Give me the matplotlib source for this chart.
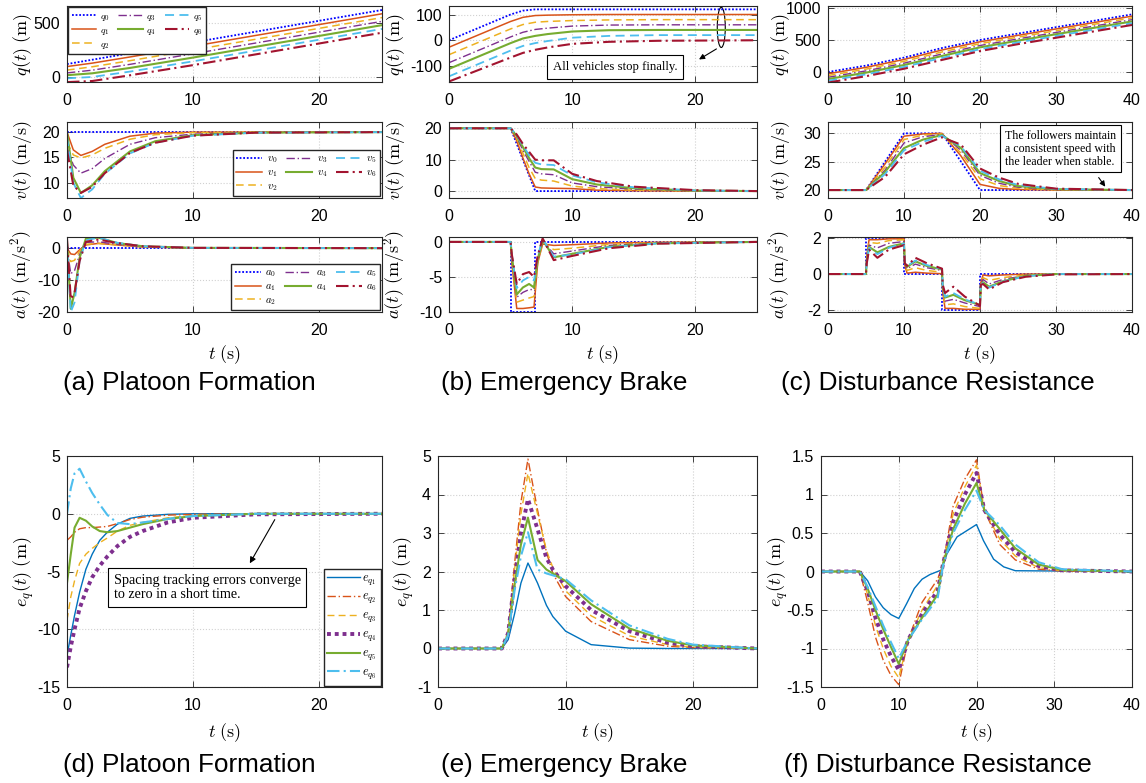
import matplotlib
matplotlib.use("Agg")
import matplotlib.pyplot as plt
from matplotlib.patches import Ellipse
from matplotlib.ticker import FuncFormatter

plt.rcParams['font.family'] = ['Liberation Sans', 'DejaVu Sans']
plt.rcParams['mathtext.fontset'] = 'cm'
plt.rcParams['axes.unicode_minus'] = False

# ---------------- (a) platoon formation ----------------
ta_q = [0, 2, 5, 10, 25]
qa = [
    [120, 160, 220, 320, 620],
    [97, 128.5, 185.5, 285, 585],
    [64, 94.8, 151.3, 250, 550],
    [38, 63.3, 117.3, 215, 515],
    [17, 34.3, 84.1, 180, 480],
    [-12, 0.5, 50.3, 145, 445],
    [-47, -37, 16.1, 110, 410],
]
ta_v = [0, 0.5, 1.1, 2, 3, 5, 7, 10, 15, 25]
va = [
    [20, 20, 20, 20, 20, 20, 20, 20, 20, 20],
    [20, 16.5, 15.4, 16.2, 17.6, 19.2, 19.8, 20, 20, 20],
    [18, 15.5, 14.9, 15.5, 16.8, 18.6, 19.5, 19.9, 20, 20],
    [17, 13.5, 11.9, 12.8, 14.8, 17.6, 18.9, 19.6, 19.9, 20],
    [20, 11, 8.0, 9.5, 12.3, 16.2, 18.2, 19.4, 19.9, 20],
    [19, 10, 7.0, 8.7, 11.8, 15.8, 17.9, 19.3, 19.9, 20],
    [16.5, 9.5, 8.0, 9.2, 11.9, 15.9, 17.9, 19.3, 19.9, 20],
]
ta_a = [0, 0.3, 0.6, 1.0, 1.5, 2.5, 4, 6, 10, 25]
aa = [
    [0, 0, 0, 0, 0, 0, 0, 0, 0, 0],
    [0, -1.8, -2.0, -0.5, 1.0, 1.5, 1.0, 0.4, 0.05, 0],
    [0, -4.2, -3.8, -1.0, 1.2, 1.5, 1.0, 0.4, 0.05, 0],
    [0, -8, -7, -2, 1.8, 2.0, 1.2, 0.5, 0.1, 0],
    [2, -19, -14, -3, 3.0, 3.3, 1.6, 0.6, 0.1, 0],
    [2, -20, -17, -4, 2.5, 3.3, 1.7, 0.6, 0.1, 0],
    [3, -16, -14, -4, 2.0, 2.7, 1.6, 0.6, 0.1, 0],
]

# ---------------- (b) emergency brake ----------------
tb_q = [0, 5, 6, 7, 8, 10, 13, 17, 25]
qb = [
    [0, 100, 115, 120, 120, 120, 120, 120, 120],
    [-27, 73, 89, 96, 97.5, 99, 100, 100, 100],
    [-56, 44, 61, 70, 73, 76.5, 79, 80, 80],
    [-87, 13, 31, 42, 47, 55, 59, 60, 60],
    [-111, -11, 7, 17, 24, 34, 39, 40, 40],
    [-140, -40, -22, -11, -3, 10, 17, 20, 20],
    [-160, -67, -49, -37, -28, -14, -6, -2, 0],
]
tb_v0 = [0, 5, 7, 25]
vb0 = [20, 20, 0, 0]
tb_v = [0, 5, 5.5, 6, 6.5, 7, 7.5, 8.5, 10, 12, 15, 20, 25]
vb = [
    [20, 20, 16, 10.5, 5.5, 1.3, 1.0, 0.9, 0.8, 0.3, 0.1, 0, 0],
    [20, 20, 16.8, 12, 7.5, 4, 3.5, 3.2, 1.6, 0.8, 0.3, 0.05, 0],
    [20, 20, 17.2, 13, 9.5, 6, 5.5, 5.2, 2.6, 1.4, 0.6, 0.1, 0],
    [20, 20, 17.5, 14, 10.5, 7.5, 7, 6.9, 3.8, 2.1, 0.9, 0.15, 0],
    [20, 20, 17.8, 14.5, 11.5, 9, 8.5, 8.3, 5.0, 2.8, 1.2, 0.2, 0],
    [20, 20, 18, 15, 12.5, 10, 9.8, 9.8, 5.5, 3.2, 1.4, 0.3, 0],
]
tb_a0 = [0, 5, 5, 7, 7, 25]
ab0 = [0, 0, -10, -10, 0, 0]
tb_a = [0, 5, 5.1, 5.5, 6.0, 6.5, 6.9, 7.2, 7.6, 8.5, 10, 13, 17, 25]
ab = [
    [0, 0, -3, -9.5, -9.5, -9.4, -9.3, -3, -0.3, -0.5, -0.4, -0.15, -0.05, 0],
    [0, 0, -2.5, -8.6, -8.3, -8.0, -7.8, -3, 0, -1.1, -0.9, -0.35, -0.1, 0],
    [0, 0, -2.2, -7.9, -7.2, -6.8, -6.8, -2.5, 0.2, -1.7, -1.3, -0.5, -0.15, 0],
    [0, 0, -2, -7.5, -6.5, -6.0, -6.5, -2.5, 0.3, -2.2, -1.7, -0.7, -0.2, 0],
    [0, 0, -2, -6.6, -5.5, -5.0, -5.5, -2, 0.4, -2.1, -1.8, -0.75, -0.2, 0],
    [0, 0, -1.8, -6, -4.6, -4.3, -5, -2, 0.5, -2.6, -2.0, -0.9, -0.25, 0],
]

# ---------------- (c) disturbance resistance ----------------
tc_q = [0, 5, 10, 15, 20, 25, 40]
qc = [
    [0, 100, 225, 375, 500, 600, 900],
    [-27.5, 72.5, 196, 344, 472, 572.5, 872.5],
    [-55, 45, 167, 313, 443, 545, 845],
    [-82.5, 17.5, 138, 282, 414, 517.5, 817.5],
    [-110, -10, 109, 251, 385, 490, 790],
    [-137.5, -37.5, 80, 220, 356, 462.5, 762.5],
    [-165, -65, 51, 189, 327, 435, 735],
]
tc_v = [0, 5, 7.5, 10, 12.5, 15, 17.5, 20, 22.5, 25, 30, 40]
vc = [
    [20, 20, 25, 30, 30, 30, 25, 20, 20, 20, 20, 20],
    [20, 20, 24.6, 29.5, 29.9, 30, 26.0, 21, 20.3, 20.1, 20, 20],
    [20, 20, 24.0, 28.9, 29.7, 29.9, 26.5, 22, 20.8, 20.3, 20.05, 20],
    [20, 20, 23.5, 28.3, 29.4, 29.8, 27, 22.6, 21.2, 20.5, 20.1, 20],
    [20, 20, 23.2, 27.4, 28.9, 29.7, 27.4, 23.0, 21.6, 20.7, 20.15, 20],
    [20, 20, 22.8, 27, 28.5, 29.6, 27.7, 23.4, 21.9, 20.9, 20.2, 20],
    [20, 20, 22.3, 26.3, 28.0, 29.3, 28, 23.8, 22.2, 21.1, 20.25, 20],
]
tc_a0 = [0, 5, 5, 10, 10, 15, 15, 20, 20, 40]
ac0 = [0, 0, 2, 2, 0, 0, -2, -2, 0, 0]
tc_a = [0, 5, 5.1, 5.4, 6.5, 8, 10, 10.1, 10.4, 11.5, 13, 15, 15.1, 15.4, 16.5, 18, 20,
        20.1, 20.4, 21.2, 23, 26, 30, 40]
ac = [
    [0, 0, 1.0, 1.9, 1.9, 1.95, 1.95, 0.5, 0.05, 0.1, 0.05, 0.02, -1.0, -1.9, -1.9, -1.95, -1.95,
     -0.5, -0.05, -0.1, -0.05, 0, 0, 0],
    [0, 0, 0.8, 1.75, 1.7, 1.85, 1.9, 0.6, 0.2, 0.35, 0.2, 0.1, -0.9, -1.7, -1.65, -1.8, -1.9,
     -0.6, -0.2, -0.35, -0.2, -0.05, 0, 0],
    [0, 0, 0.8, 1.6, 1.45, 1.7, 1.8, 0.6, 0.3, 0.55, 0.35, 0.2, -0.8, -1.5, -1.4, -1.6, -1.8,
     -0.6, -0.3, -0.55, -0.3, -0.08, 0, 0],
    [0, 0, 0.7, 1.5, 1.2, 1.5, 1.7, 0.6, 0.4, 0.7, 0.45, 0.25, -0.7, -1.3, -1.15, -1.45, -1.7,
     -0.6, -0.45, -0.7, -0.4, -0.1, 0, 0],
    [0, 0, 0.7, 1.45, 1.1, 1.45, 1.7, 0.6, 0.45, 0.75, 0.5, 0.28, -0.7, -1.25, -1.05, -1.4, -1.7,
     -0.6, -0.5, -0.75, -0.42, -0.12, 0, 0],
    [0, 0, 0.6, 1.35, 0.9, 1.35, 1.6, 0.6, 0.45, 0.9, 0.6, 0.3, -0.6, -1.05, -0.7, -1.25, -1.75,
     -0.6, -0.55, -0.85, -0.45, -0.15, -0.02, 0],
]

# ---------------- (d)(e)(f) spacing errors ----------------
td = [0, 0.3, 0.6, 1.0, 1.5, 2, 2.6, 3.2, 4, 5, 6, 8, 10, 15, 25]
ed = [
    [-12.3, -10.5, -8.8, -6.8, -4.8, -3.5, -2.3, -1.6, -0.9, -0.4, -0.2, -0.05, 0, 0, 0],
    [-2.3, -2.0, -1.6, -1.3, -1.2, -1.2, -1.15, -1.1, -0.85, -0.5, -0.3, -0.12, -0.05, 0, 0],
    [-9.2, -7.2, -5.8, -4.3, -3.5, -3.0, -2.5, -2.1, -1.5, -1.0, -0.75, -0.35, -0.15, 0, 0],
    [-13.3, -11.5, -10.0, -8.2, -6.7, -5.5, -4.5, -3.7, -2.8, -2.0, -1.5, -0.75, -0.35, -0.05, 0],
    [-6.0, -3.5, -1.2, -0.35, -0.6, -1.1, -1.5, -1.6, -1.5, -1.2, -0.9, -0.45, -0.2, 0, 0],
    [0, 2.2, 3.5, 3.9, 2.8, 1.8, 0.8, -0.1, -0.8, -0.9, -0.75, -0.45, -0.2, 0, 0],
]
te = [0, 5, 5.5, 6, 6.5, 7.05, 7.8, 8.5, 9, 10, 12, 15, 18, 20, 25]
ee = [
    [0, 0, 0.23, 0.9, 1.7, 2.22, 1.7, 1.12, 0.83, 0.45, 0.1, 0.01, 0, 0, 0],
    [0, 0, 0.45, 2.2, 3.8, 4.92, 3.6, 2.5, 1.95, 1.35, 0.7, 0.23, 0.06, 0.02, 0],
    [0, 0, 0.42, 2.05, 3.5, 4.55, 3.5, 2.55, 2.1, 1.5, 0.85, 0.33, 0.1, 0.03, 0],
    [0, 0, 0.4, 1.8, 3.0, 3.88, 3.1, 2.35, 2.05, 1.62, 1.0, 0.45, 0.15, 0.06, 0],
    [0, 0, 0.38, 1.65, 2.7, 3.4, 2.3, 2.05, 1.95, 1.75, 1.15, 0.52, 0.2, 0.08, 0],
    [0, 0, 0.35, 1.5, 2.4, 3.02, 2.05, 1.95, 1.9, 1.8, 1.25, 0.6, 0.25, 0.1, 0],
]
tf1 = [0, 5, 6, 7, 8, 9, 10, 11, 12, 13, 14, 15, 15.5, 16.2, 17.5, 18.75, 20, 20.9, 22.2, 23.5, 25, 40]
ef1 = [0, 0, -0.12, -0.33, -0.47, -0.56, -0.61, -0.42, -0.22, -0.1, -0.04, 0, 0.02, 0.23, 0.45,
       0.53, 0.61, 0.4, 0.16, 0.06, 0.01, 0]
tf = [0, 5, 6, 7, 8, 9, 10, 11.2, 13, 15, 15.7, 17, 18.5, 20, 21, 23, 25, 28, 31, 40]
ef = [
    [0, 0, -0.4, -0.85, -1.15, -1.35, -1.47, -0.89, -0.4, -0.1, 0.1, 0.85, 1.2, 1.45, 0.8, 0.35, 0.15, 0.03, 0.005, 0],
    [0, 0, -0.3, -0.7, -1.0, -1.23, -1.38, -0.89, -0.5, -0.18, 0.1, 0.75, 1.1, 1.38, 0.8, 0.42, 0.2, 0.05, 0.01, 0],
    [0, 0, -0.25, -0.6, -0.88, -1.1, -1.28, -0.89, -0.55, -0.25, 0.1, 0.65, 1.0, 1.28, 0.8, 0.48, 0.25, 0.07, 0.015, 0],
    [0, 0, -0.22, -0.5, -0.75, -0.98, -1.2, -0.89, -0.6, -0.3, 0.1, 0.55, 0.88, 1.15, 0.8, 0.55, 0.3, 0.09, 0.02, 0],
    [0, 0, -0.2, -0.45, -0.7, -0.92, -1.13, -0.89, -0.62, -0.35, 0.08, 0.5, 0.8, 1.05, 0.8, 0.6, 0.35, 0.12, 0.03, 0],
]

# styles (matlab-ish)
veh_col = ['#0000FF', '#D95319', '#EDB120', '#7E2F8E', '#77AC30', '#4DBEEE', '#A2142F']
veh_ls = [(0, (1, 1)), '-', (0, (5, 3)), (0, (6, 2, 1, 2)), '-', (0, (5, 3)), (0, (6, 2, 1, 2))]
veh_lw = [1.3, 1.1, 1.1, 1.0, 1.5, 1.3, 1.5]
err_col = ['#0072BD', '#D95319', '#EDB120', '#7E2F8E', '#77AC30', '#4DBEEE']
err_ls = ['-', (0, (6, 2, 1, 2)), (0, (5, 3)), (0, (1, 1)), '-', (0, (6, 2, 1, 2))]
err_lw = [1.0, 1.0, 1.0, 2.8, 1.5, 1.5]

W, H = 1146, 783
fig = plt.figure(figsize=(W / 100, H / 100), dpi=100)


def box(l, t, r, b):
    return fig.add_axes([l / W, 1 - b / H, (r - l) / W, (b - t) / H])


def style(ax, xlim, xt, ylim, yt, ylab, labx):
    ax.set_xlim(xlim)
    ax.set_ylim(ylim)
    ax.set_xticks(xt)
    ax.set_yticks(yt)
    ax.yaxis.set_major_formatter(FuncFormatter(lambda v, p: '%g' % v))
    ax.tick_params(direction='in', top=True, right=True, labelsize=11.5, length=4,
                   width=0.6, color='#262626', pad=5)
    ax.tick_params(axis='x', pad=8)
    ax.grid(True, color='0.82', linestyle=':', linewidth=0.8)
    for s in ax.spines.values():
        s.set_color('#262626')
        s.set_linewidth(0.8)
    ax.set_ylabel(ylab, fontsize=13)
    ax.yaxis.set_label_coords(labx, 0.5)


cols = [(67, 382), (449, 757), (828, 1132)]
rows = [(6, 82), (122, 198), (237, 312)]

# top row axes
axs = [[box(c[0], r[0], c[1], r[1]) for r in rows] for c in cols]

qlab = r'$q(t)\ (\mathrm{m})$'
vlab = r'$v(t)\ (\mathrm{m/s})$'
alab = r'$a(t)\ (\mathrm{m/s^2})$'
tlab = r'$t\ (\mathrm{s})$'
leg_kw = dict(ncol=3, handlelength=2.5, handletextpad=0.4, columnspacing=0.9,
              labelspacing=0.2, borderpad=0.35, borderaxespad=0.15,
              fancybox=False, edgecolor='#262626', framealpha=1)

# (a)
ax = axs[0][0]
for i in range(7):
    ax.plot(ta_q, qa[i], color=veh_col[i], ls=veh_ls[i], lw=veh_lw[i], label=r'$q_%d$' % i)
style(ax, (0, 25), [0, 10, 20], (-46, 657), [0, 500], qlab, -0.105)
ax.legend(loc='upper left', fontsize=7, **leg_kw)
ax = axs[0][1]
for i in range(7):
    ax.plot(ta_v, va[i], color=veh_col[i], ls=veh_ls[i], lw=veh_lw[i], label=r'$v_%d$' % i)
style(ax, (0, 25), [0, 10, 20], (7, 22), [10, 15, 20], vlab, -0.105)
ax.legend(loc='lower right', fontsize=7.5, **leg_kw)
ax = axs[0][2]
for i in range(7):
    ax.plot(ta_a, aa[i], color=veh_col[i], ls=veh_ls[i], lw=veh_lw[i], label=r'$a_%d$' % i)
style(ax, (0, 25), [0, 10, 20], (-20, 3.5), [-20, -10, 0], alab, -0.105)
ax.legend(loc='lower right', fontsize=7.5, **leg_kw)
ax.set_xlabel(tlab, fontsize=13, labelpad=4)

# (b)
ax = axs[1][0]
for i in range(7):
    ax.plot(tb_q, qb[i], color=veh_col[i], ls=veh_ls[i], lw=veh_lw[i])
style(ax, (0, 25), [0, 10, 20], (-162, 133), [-100, 0, 100], qlab, -0.135)
ax.add_patch(Ellipse((22.1, 50), 0.65, 156, fill=False, color='k', lw=0.8))
ax.annotate('', xy=(20.1, -80), xytext=(21.9, -28),
            arrowprops=dict(arrowstyle='-|>', color='k', lw=0.8, mutation_scale=8))
ax.text(13.5, -104, 'All vehicles stop finally.', ha='center', va='center', fontsize=9.2,
        family='Liberation Serif',
        bbox=dict(boxstyle='square,pad=0.45', fc='white', ec='k', lw=0.8))
ax = axs[1][1]
ax.plot(tb_v0, vb0, color=veh_col[0], ls=veh_ls[0], lw=veh_lw[0])
for i in range(6):
    ax.plot(tb_v, vb[i], color=veh_col[i + 1], ls=veh_ls[i + 1], lw=veh_lw[i + 1])
style(ax, (0, 25), [0, 10, 20], (-2.2, 22), [0, 10, 20], vlab, -0.135)
ax = axs[1][2]
ax.plot(tb_a0, ab0, color=veh_col[0], ls=veh_ls[0], lw=veh_lw[0])
for i in range(6):
    ax.plot(tb_a, ab[i], color=veh_col[i + 1], ls=veh_ls[i + 1], lw=veh_lw[i + 1])
style(ax, (0, 25), [0, 10, 20], (-10, 0.7), [-10, -5, 0], alab, -0.135)
ax.set_xlabel(tlab, fontsize=13, labelpad=4)

# (c)
ax = axs[2][0]
for i in range(7):
    ax.plot(tc_q, qc[i], color=veh_col[i], ls=veh_ls[i], lw=veh_lw[i])
style(ax, (0, 40), [0, 10, 20, 30, 40], (-156, 1031), [0, 500, 1000], qlab, -0.12)
ax = axs[2][1]
for i in range(7):
    ax.plot(tc_v, vc[i], color=veh_col[i], ls=veh_ls[i], lw=veh_lw[i])
style(ax, (0, 40), [0, 10, 20, 30, 40], (18.6, 32), [20, 25, 30], vlab, -0.12)
ax.annotate('', xy=(36.7, 20.2), xytext=(35.4, 22.6),
            arrowprops=dict(arrowstyle='-|>', color='k', lw=0.8, mutation_scale=8))
ax.text(30.6, 27.3, 'The followers maintain\na consistent speed with\nthe leader when stable.',
        ha='center', va='center', fontsize=8.6, family='Liberation Serif',
        linespacing=1.1, multialignment='left',
        bbox=dict(boxstyle='square,pad=0.4', fc='white', ec='k', lw=0.8))
ax = axs[2][2]
ax.plot(tc_a0, ac0, color=veh_col[0], ls=veh_ls[0], lw=veh_lw[0])
for i in range(6):
    ax.plot(tc_a, ac[i], color=veh_col[i + 1], ls=veh_ls[i + 1], lw=veh_lw[i + 1])
style(ax, (0, 40), [0, 10, 20, 30, 40], (-2.1, 2.05), [-2, 0, 2], alab, -0.12)
ax.set_xlabel(tlab, fontsize=13, labelpad=4)

# bottom row
elab = r'$e_q(t)\ (\mathrm{m})$'
axd = box(67, 456, 382, 687)
for i in range(6):
    axd.plot(td, ed[i], color=err_col[i], ls=err_ls[i], lw=err_lw[i], label=r'$e_{q_%d}$' % (i + 1))
style(axd, (0, 25), [0, 10, 20], (-15, 5), [-15, -10, -5, 0, 5], elab, -0.1)
axd.set_xlabel(tlab, fontsize=13, labelpad=6)
axd.legend(loc='lower right', fontsize=9, handlelength=2.6, handletextpad=0.2,
           labelspacing=0.3, borderpad=0.3, borderaxespad=0.1,
           fancybox=False, edgecolor='#262626', framealpha=1)
axd.annotate('', xy=(14.4, -4.5), xytext=(16.6, -0.3),
             arrowprops=dict(arrowstyle='-|>', color='k', lw=0.8, mutation_scale=9))
axd.text(3.7, -6.4, 'Spacing tracking errors converge\nto zero in a short time.',
         ha='left', va='center', fontsize=10.2, family='Liberation Serif', linespacing=1.15,
         bbox=dict(boxstyle='square,pad=0.4', fc='white', ec='k', lw=0.8))

axe = box(438, 456, 757, 687)
for i in range(6):
    axe.plot(te, ee[i], color=err_col[i], ls=err_ls[i], lw=err_lw[i])
style(axe, (0, 25), [0, 10, 20], (-1, 5), [-1, 0, 1, 2, 3, 4, 5], elab, -0.07)
axe.set_xlabel(tlab, fontsize=13, labelpad=6)

axf = box(821, 456, 1132, 687)
axf.plot(tf1, ef1, color=err_col[0], ls=err_ls[0], lw=err_lw[0])
for i in range(5):
    axf.plot(tf, ef[i], color=err_col[i + 1], ls=err_ls[i + 1], lw=err_lw[i + 1])
style(axf, (0, 40), [0, 10, 20, 30, 40], (-1.5, 1.5), [-1.5, -1, -0.5, 0, 0.5, 1, 1.5], elab, -0.1)
axf.set_xlabel(tlab, fontsize=13, labelpad=6)

titles_top = ['(a) Platoon Formation', '(b) Emergency Brake', '(c) Disturbance Resistance']
titles_bot = ['(d) Platoon Formation', '(e) Emergency Brake', '(f) Disturbance Resistance']
title_x = [189, 564, 938]
for k in range(3):
    fig.text(title_x[k] / W, 1 - 383 / H, titles_top[k], ha='center', va='center', fontsize=18.8)
    fig.text(title_x[k] / W, 1 - 765 / H, titles_bot[k], ha='center', va='center', fontsize=18.8)

fig.savefig('out.png', dpi=100)
